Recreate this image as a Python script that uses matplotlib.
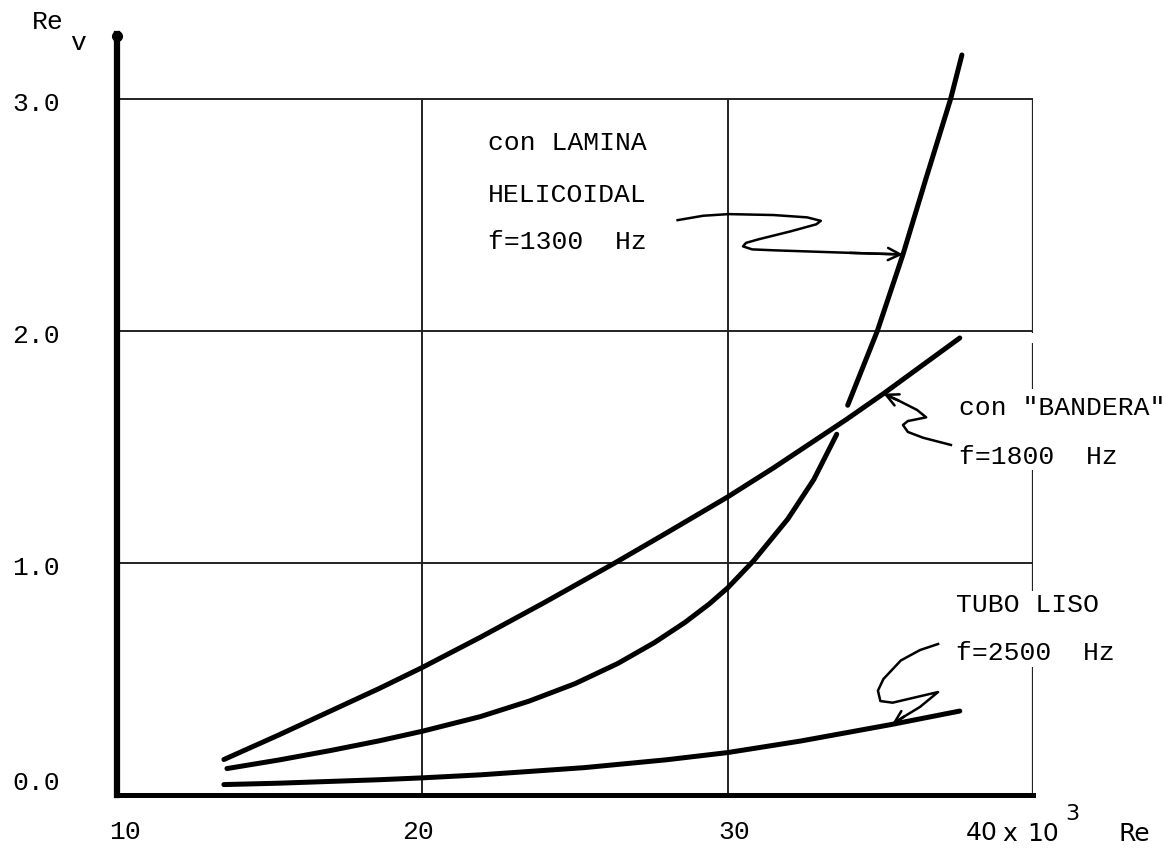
import numpy as np
import matplotlib
matplotlib.use("Agg")
import matplotlib.pyplot as plt

# Re (x 10^3) and Re_v read for each configuration
bandera_re = [13.5, 15.3, 18.6, 20.0, 21.9, 24.0, 26.3, 28.0, 30.0, 31.5, 33.9, 35.1, 37.6]
bandera_rev = [0.153, 0.259, 0.46, 0.55, 0.68, 0.83, 1.00, 1.13, 1.285, 1.41, 1.62, 1.73, 1.97]

# helicoidal sheet curve, drawn in two pieces where it passes the "bandera" curve
lamina_lo_re = [13.6, 15.3, 17.0, 18.6, 20.0, 21.9, 23.5, 25.0, 26.4, 27.6, 28.6, 29.4,
                30.0, 30.85, 31.97, 32.82, 33.57]
lamina_lo_rev = [0.114, 0.151, 0.192, 0.234, 0.275, 0.338, 0.405, 0.48, 0.567, 0.657, 0.744,
                 0.824, 0.893, 1.01, 1.19, 1.36, 1.555]
lamina_hi_re = [33.93, 34.9, 35.74, 36.5, 37.3, 37.67]
lamina_hi_rev = [1.68, 2.0, 2.33, 2.66, 3.0, 3.19]

tubo_re = [13.5, 15.3, 18.6, 20.0, 21.9, 25.3, 28.0, 30.0, 32.4, 35.4, 37.6]
tubo_rev = [0.045, 0.051, 0.066, 0.074, 0.087, 0.118, 0.152, 0.183, 0.233, 0.305, 0.362]

ytick_vals = [0.0, 1.0, 2.0, 3.0]
ytick_labels = ['0.0', '1.0', '2.0', '3.0']
xtick_labels = ['10', '20', '30']

MONO = 'Liberation Mono'
SANS = 'DejaVu Sans'

fig = plt.figure(figsize=(11.69, 8.65), dpi=100)
ax = fig.add_axes([0.1001, 0.0809, 0.7836, 0.8797])
ax.set_xlim(10, 40)
ax.set_ylim(0, 3.28)
ax.set_xticks([])
ax.set_yticks([])
for s in ['top', 'right']:
    ax.spines[s].set_visible(False)
ax.spines['left'].set_linewidth(4.5)
ax.spines['bottom'].set_linewidth(3.6)
ax.plot(10, 3.27, 'o', color='k', ms=7, clip_on=False, zorder=5)

# grid box
ax.hlines([1.0, 2.0, 3.0], 10, 40, color='#222222', lw=1.4)
ax.vlines([20, 30], 0, 3.0, color='#222222', lw=1.4)
# right edge, interrupted by the labels
for y0, y1 in [(3.0, 1.99), (1.95, 1.75), (1.40, 0.88), (0.55, 0.0)]:
    ax.vlines(40, y1, y0, color='#222222', lw=1.6)

# curves
ax.plot(bandera_re, bandera_rev, color='k', lw=3.6, solid_capstyle='round')
ax.plot(lamina_lo_re, lamina_lo_rev, color='k', lw=3.6, solid_capstyle='round')
ax.plot(lamina_hi_re, lamina_hi_rev, color='k', lw=3.6, solid_capstyle='round')
ax.plot(tubo_re, tubo_rev, color='k', lw=3.6, solid_capstyle='round')


def squiggle(pts, tip):
    xs = [p[0] for p in pts] + [tip[0]]
    ys = [p[1] for p in pts] + [tip[1]]
    ax.plot(xs, ys, color='k', lw=1.8, solid_joinstyle='round', clip_on=False)
    ax.annotate('', xy=tip, xytext=pts[-1],
                arrowprops=dict(arrowstyle='->', lw=1.8, color='k',
                                mutation_scale=22, shrinkA=0, shrinkB=0))


# pointers from the labels to the curves
tip_lam = (np.interp(2.33, lamina_hi_rev, lamina_hi_re), 2.33)
squiggle([(28.36, 2.478), (29.2, 2.497), (30.03, 2.504), (31.5, 2.50), (32.6, 2.49),
          (33.05, 2.475), (32.9, 2.46), (32.07, 2.43), (31.0, 2.395), (30.6, 2.38),
          (30.5, 2.365), (30.8, 2.352), (31.5, 2.348), (34.0, 2.337)], tip_lam)

tip_ban = (35.1, np.interp(35.1, bandera_re, bandera_rev))
squiggle([(37.31, 1.509), (36.4, 1.54), (35.9, 1.565), (35.74, 1.595), (35.9, 1.612),
          (36.5, 1.628), (36.2, 1.66), (35.6, 1.70)], tip_ban)

tip_tub = (35.38, np.interp(35.38, tubo_re, tubo_rev))
squiggle([(36.89, 0.651), (36.3, 0.625), (35.67, 0.58), (35.1, 0.50), (34.92, 0.45),
          (35.0, 0.405), (35.4, 0.398), (36.89, 0.444), (36.3, 0.38), (35.8, 0.34)], tip_tub)

# labels on the curves
fs = 19
ax.text(22.16, 2.81, 'con LAMINA', fontfamily=MONO, fontsize=fs, va='center')
ax.text(22.16, 2.586, 'HELICOIDAL', fontfamily=MONO, fontsize=fs, va='center')
ax.text(22.16, 2.384, 'f=1300  Hz', fontfamily=MONO, fontsize=fs, va='center')
ax.text(37.57, 1.668, 'con "BANDERA"', fontfamily=MONO, fontsize=fs, va='center')
ax.text(37.57, 1.457, 'f=1800  Hz', fontfamily=MONO, fontsize=fs, va='center')
ax.text(37.48, 0.819, 'TUBO LISO', fontfamily=MONO, fontsize=fs, va='center')
ax.text(37.48, 0.612, 'f=2500  Hz', fontfamily=MONO, fontsize=fs, va='center')

# y axis labels
for v, lab in zip(ytick_vals, ytick_labels):
    yy = v + 0.05 if v == 0 else v - 0.02
    ax.text(6.56, yy, lab, fontfamily=MONO, fontsize=fs, va='center', ha='left')
ax.text(7.21, 3.33, 'Re', fontfamily=MONO, fontsize=fs, va='center', ha='left', clip_on=False)
ax.text(8.46, 3.24, 'v', fontfamily=MONO, fontsize=fs, va='center', ha='left', clip_on=False)

# x axis labels
for xv, lab in zip([10.26, 19.87, 30.2], xtick_labels):
    ax.text(xv, -0.16, lab, fontfamily=MONO, fontsize=fs, va='center', ha='center')
ax.text(38.33, -0.165, '40', fontfamily=SANS, fontsize=18, va='center', ha='center')
ax.text(39.25, -0.17, 'x', fontfamily=SANS, fontsize=18, va='center', ha='center')
ax.text(39.8, -0.17, '10', fontfamily=SANS, fontsize=18, va='center', ha='left')
ax.text(41.05, -0.08, '3', fontfamily=SANS, fontsize=16, va='center', ha='left')
ax.text(42.8, -0.17, 'Re', fontfamily=SANS, fontsize=18, va='center', ha='left')

fig.savefig('out.png', dpi=100)
